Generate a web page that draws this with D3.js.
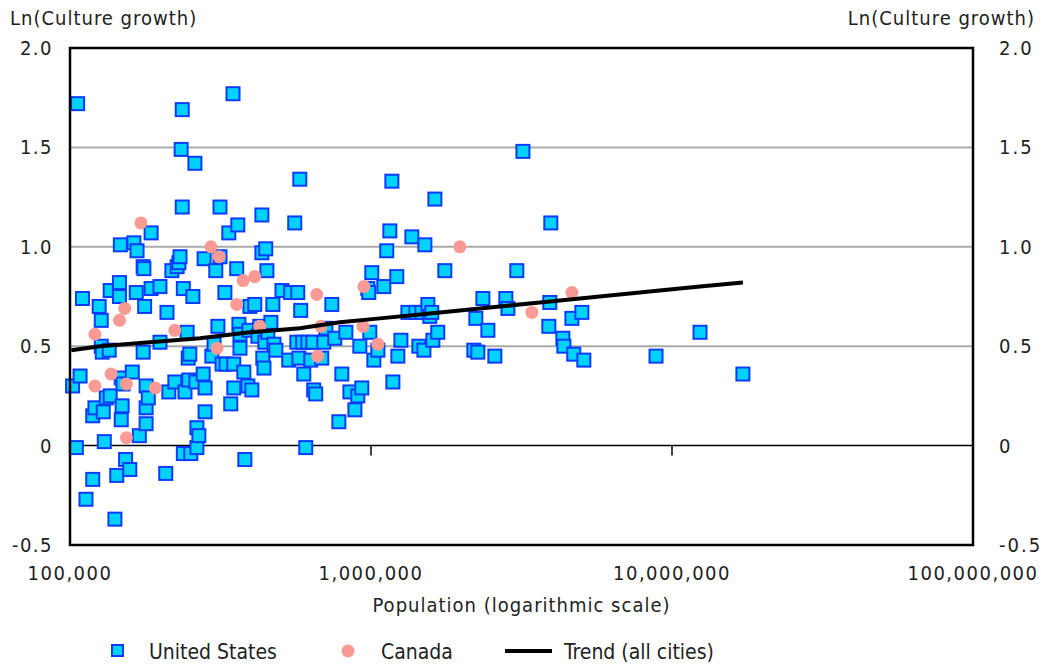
<!DOCTYPE html>
<html>
<head>
<meta charset="utf-8">
<script src="https://cdn.jsdelivr.net/npm/d3@7"></script>
<style>
  body { margin: 0; background: #fff; }
  text { font-family: "DejaVu Sans Condensed", "DejaVu Sans", sans-serif; font-stretch: condensed; fill: #222; }
</style>
</head>
<body>
<div id="chart"></div>
<script>
// US cities: [population (thousands), ln(culture growth)]
const usCities = [
  [106, 1.72], [102, 0.30], [105, -0.01], [108, 0.35], [110, 0.74], [113, -0.27], [119, 0.15], [119, -0.17],
  [121, 0.19], [125, 0.70], [127, 0.50], [127, 0.63], [128, 0.47], [130, 0.02], [129, 0.17], [132, 0.24],
  [136, 0.78], [135, 0.48], [136, 0.25], [141, -0.37], [143, -0.15], [146, 0.82], [146, 0.75], [147, 1.01],
  [148, 0.34], [149, 0.20], [148, 0.13], [150, 0.31], [153, -0.07], [158, -0.12], [161, 0.37], [163, 1.02],
  [166, 0.77], [167, 0.98], [170, 0.05], [175, 0.47], [175, 0.90], [176, 0.89], [177, 0.70], [179, 0.11],
  [179, 0.19], [179, 0.30], [182, 0.24], [186, 1.07], [186, 0.79], [199, 0.80], [199, 0.52], [208, -0.14],
  [210, 0.67], [213, 0.27], [218, 0.88], [223, 0.32], [227, 0.90], [230, 0.92], [232, 0.95], [234, 1.49],
  [236, 1.69], [236, 1.20], [238, 0.79], [238, -0.04], [241, 0.27], [245, 0.57], [247, 0.44], [248, 0.33],
  [250, 0.46], [252, -0.04], [256, 0.75], [260, 1.42], [262, 0.32], [264, -0.01], [264, 0.09], [268, 0.05],
  [277, 0.36], [279, 0.94], [281, 0.29], [281, 0.17], [296, 0.45], [301, 0.51], [305, 0.88], [310, 0.60],
  [315, 1.20], [315, 0.95], [320, 0.41], [327, 0.77], [330, 0.41], [337, 1.07], [342, 0.21], [348, 1.77],
  [350, 0.41], [350, 0.29], [358, 0.89], [361, 1.11], [364, 0.61], [367, 0.56], [367, 0.49], [378, 0.37],
  [381, -0.07], [390, 0.30], [393, 0.58], [396, 0.70], [402, 0.28], [411, 0.71], [421, 0.55], [427, 0.60],
  [434, 1.16], [434, 0.97], [437, 0.44], [441, 0.39], [444, 0.52], [447, 0.99], [451, 0.88], [454, 0.57],
  [465, 0.62], [472, 0.71], [476, 0.51], [483, 0.48], [506, 0.78], [533, 0.43], [541, 0.77], [558, 1.12],
  [567, 0.52], [571, 0.77], [576, 0.44], [580, 1.34], [584, 0.68], [593, 0.52], [598, 0.36], [607, -0.01],
  [617, 0.52], [631, 0.43], [641, 0.52], [645, 0.28], [655, 0.26], [686, 0.44], [697, 0.52], [708, 0.59],
  [741, 0.71], [758, 0.54], [782, 0.12], [800, 0.36], [825, 0.57], [851, 0.27], [884, 0.18], [904, 0.25],
  [918, 0.50], [932, 0.29], [976, 0.79], [983, 0.77], [991, 0.57], [1006, 0.87], [1022, 0.43], [1054, 0.48],
  [1103, 0.80], [1128, 0.98], [1155, 1.08], [1173, 1.33], [1182, 0.32], [1218, 0.85], [1228, 0.45], [1257, 0.53],
  [1326, 0.67], [1367, 1.05], [1410, 0.67], [1442, 0.50], [1476, 0.67], [1499, 0.48], [1510, 1.01], [1545, 0.71],
  [1568, 0.65], [1592, 0.67], [1605, 0.53], [1630, 1.24], [1666, 0.57], [1759, 0.88], [2196, 0.48], [2230, 0.64],
  [2264, 0.47], [2353, 0.74], [2445, 0.58], [2579, 0.45], [2805, 0.74], [2850, 0.69], [3051, 0.88], [3197, 1.48],
  [3897, 0.60], [3927, 0.72], [3957, 1.12], [4339, 0.54], [4372, 0.50], [4650, 0.64], [4717, 0.46], [5018, 0.67],
  [5094, 0.43], [8850, 0.45], [12390, 0.57], [17200, 0.36]
];

// Canadian cities
const canadaCities = [
  [121, 0.56], [121, 0.30], [137, 0.36], [146, 0.63], [152, 0.69], [154, 0.31], [154, 0.04], [172, 1.12],
  [192, 0.29], [223, 0.58], [294, 1.00], [313, 0.95], [308, 0.49], [358, 0.71], [376, 0.83], [411, 0.85],
  [427, 0.60], [660, 0.76], [665, 0.45], [681, 0.60], [947, 0.80], [940, 0.60], [1054, 0.51], [1973, 1.00],
  [3423, 0.67], [4650, 0.77]
];

// Trend (all cities)
const trend = [
  [101, 0.48], [126, 0.50], [184, 0.52], [270, 0.54], [396, 0.57], [580, 0.59], [788, 0.62], [1070, 0.64],
  [1453, 0.66], [1973, 0.68], [2679, 0.70], [3638, 0.72], [4940, 0.74], [6700, 0.76], [9100, 0.78],
  [12390, 0.80], [17200, 0.82]
];

const yTicks = [-0.5, 0, 0.5, 1.0, 1.5, 2.0];
const xTicks = [100000, 1000000, 10000000, 100000000];
const gridValues = [0.5, 1.0, 1.5];

const width = 1052, height = 664;
const m = { left: 70, right: 79, top: 48, bottom: 119 };

const svg = d3.select('#chart').append('svg')
  .attr('width', width)
  .attr('height', height);

const x = d3.scaleLog()
  .domain([100000, 100000000])
  .range([m.left, width - m.right]);

const y = d3.scaleLinear()
  .domain([-0.5, 2.0])
  .range([height - m.bottom, m.top]);

const fmtY = d => d === 0 ? '0' : d.toFixed(1);

// gridlines
svg.append('g')
  .selectAll('line')
  .data(gridValues)
  .join('line')
  .attr('x1', m.left).attr('x2', width - m.right)
  .attr('y1', d => y(d)).attr('y2', d => y(d))
  .attr('stroke', '#aaa').attr('stroke-width', 2);

// zero axis with ticks
svg.append('line')
  .attr('x1', m.left).attr('x2', width - m.right)
  .attr('y1', y(0)).attr('y2', y(0))
  .attr('stroke', '#000').attr('stroke-width', 1.5);

svg.append('g')
  .selectAll('line')
  .data(xTicks.slice(1, -1))
  .join('line')
  .attr('x1', d => x(d)).attr('x2', d => x(d))
  .attr('y1', y(0)).attr('y2', y(0) + 10)
  .attr('stroke', '#000').attr('stroke-width', 1.5);

// y tick labels, both sides
svg.append('g')
  .selectAll('text')
  .data(yTicks)
  .join('text')
  .attr('x', 53)
  .attr('y', d => y(d) + 7)
  .attr('text-anchor', 'end')
  .style('font-size', '20px')
  .style('letter-spacing', '1.5px')
  .text(fmtY);

svg.append('g')
  .selectAll('text')
  .data(yTicks)
  .join('text')
  .attr('x', 999)
  .attr('y', d => y(d) + 7)
  .style('font-size', '20px')
  .style('letter-spacing', '2px')
  .text(fmtY);

// x tick labels
svg.append('g')
  .selectAll('text')
  .data(xTicks)
  .join('text')
  .attr('x', d => x(d))
  .attr('y', 580)
  .attr('text-anchor', 'middle')
  .style('font-size', '20px')
  .style('letter-spacing', '1.5px')
  .text(d3.format(','));

// axis titles
svg.append('text')
  .attr('x', 10).attr('y', 25)
  .style('font-size', '20px')
  .style('letter-spacing', '1px')
  .text('Ln(Culture growth)');

svg.append('text')
  .attr('x', 1035).attr('y', 25)
  .attr('text-anchor', 'end')
  .style('font-size', '20px')
  .style('letter-spacing', '1px')
  .text('Ln(Culture growth)');

svg.append('text')
  .attr('x', (x(100000) + x(100000000)) / 2)
  .attr('y', 612)
  .attr('text-anchor', 'middle')
  .style('font-size', '20px')
  .style('letter-spacing', '1px')
  .text('Population (logarithmic scale)');

// markers
const us = svg.append('g');
us.selectAll('rect')
  .data(usCities)
  .join('rect')
  .attr('x', d => x(d[0] * 1000) - 6.5)
  .attr('y', d => y(d[1]) - 6.5)
  .attr('width', 13).attr('height', 13)
  .attr('fill', '#00d2ff')
  .attr('stroke', '#0a3cff')
  .attr('stroke-width', 2);

svg.append('g')
  .selectAll('circle')
  .data(canadaCities)
  .join('circle')
  .attr('cx', d => x(d[0] * 1000))
  .attr('cy', d => y(d[1]))
  .attr('r', 6.5)
  .attr('fill', '#f99a94');

// trend line
const line = d3.line()
  .x(d => x(d[0] * 1000))
  .y(d => y(d[1]));

svg.append('path')
  .datum(trend)
  .attr('d', line)
  .attr('fill', 'none')
  .attr('stroke', '#000')
  .attr('stroke-width', 4);

// frame
svg.append('rect')
  .attr('x', m.left).attr('y', m.top)
  .attr('width', width - m.left - m.right)
  .attr('height', height - m.top - m.bottom)
  .attr('fill', 'none')
  .attr('stroke', '#000')
  .attr('stroke-width', 2.5);

// legend
const legend = svg.append('g').attr('transform', 'translate(0, 651)');
legend.append('rect')
  .attr('x', 112).attr('y', -6).attr('width', 11).attr('height', 11)
  .attr('fill', '#00d2ff').attr('stroke', '#0a3cff').attr('stroke-width', 2);
legend.append('text').attr('x', 149).attr('y', 8)
  .style('font-size', '21px').text('United States');
legend.append('circle').attr('cx', 348).attr('cy', 0).attr('r', 6.5).attr('fill', '#f99a94');
legend.append('text').attr('x', 381).attr('y', 8)
  .style('font-size', '21px').text('Canada');
legend.append('line').attr('x1', 505).attr('x2', 552).attr('y1', 0).attr('y2', 0)
  .attr('stroke', '#000').attr('stroke-width', 4);
legend.append('text').attr('x', 564).attr('y', 8)
  .style('font-size', '21px').text('Trend (all cities)');
</script>
</body>
</html>
